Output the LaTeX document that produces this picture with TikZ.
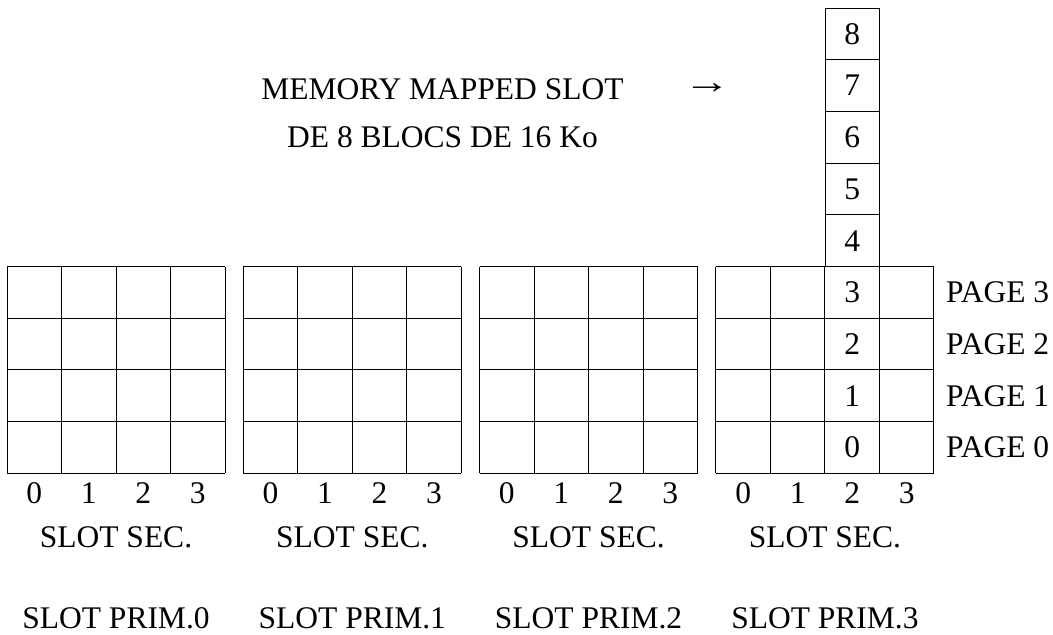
\documentclass[tikz,border=0pt]{standalone}
\usepackage{fontspec}
\usepackage{graphicx}
\setmainfont{Liberation Serif}
\begin{document}
\begin{tikzpicture}[x=1pt,y=-1pt,
  lbl/.style={font=\fontsize{31.5}{37}\selectfont, inner sep=0pt},
  gridline/.style={line width=0.9pt, black}]
\useasboundingbox (0,0) rectangle (1053,635);
% grids
\foreach \b in {0,1,2,3} {
  \pgfmathsetmacro\bx{7+236.3*\b}
  \foreach \i in {0,...,4} {
    \draw[gridline] ({\bx+54.5*\i},266.5) -- ({\bx+54.5*\i},473.3);
    \draw[gridline] (\bx,{266.5+51.7*\i}) -- ({\bx+218},{266.5+51.7*\i});
  }
  \foreach \c in {0,1,2,3} {
    \node[lbl] (col\b\c) at ({\bx+27.25+54.5*\c},493) {\c};
  }
  \node[lbl] (sec\b) at ({\bx+109},537) {SLOT SEC.};
  \node[lbl] (prim\b) at ({\bx+109},618) {SLOT PRIM.\b};
}
% stack above block 3 column 2
\foreach \i in {1,...,5} {
  \draw[gridline] (825,{266.5-51.7*\i}) -- (879.5,{266.5-51.7*\i});
}
\draw[gridline] (825,8) -- (825,266.5);
\draw[gridline] (879.5,8) -- (879.5,266.5);
\foreach \n in {0,...,8} {
  \node[lbl] (s\n) at (852.25,{447.45-51.7*\n}) {\n};
}
% page labels
\foreach \p in {0,...,3} {
  \node[lbl, anchor=west] (page\p) at (946,{447.45-51.7*\p}) {PAGE \p};
}
% title
\node[lbl] (t1) at (442.5,89) {MEMORY MAPPED SLOT};
\node[lbl] (t2) at (442.5,137) {DE 8 BLOCS DE 16 Ko};
\node[lbl] (arr) at (707,89) {\scalebox{1.5}[1.1]{→}};
\end{tikzpicture}
\end{document}
